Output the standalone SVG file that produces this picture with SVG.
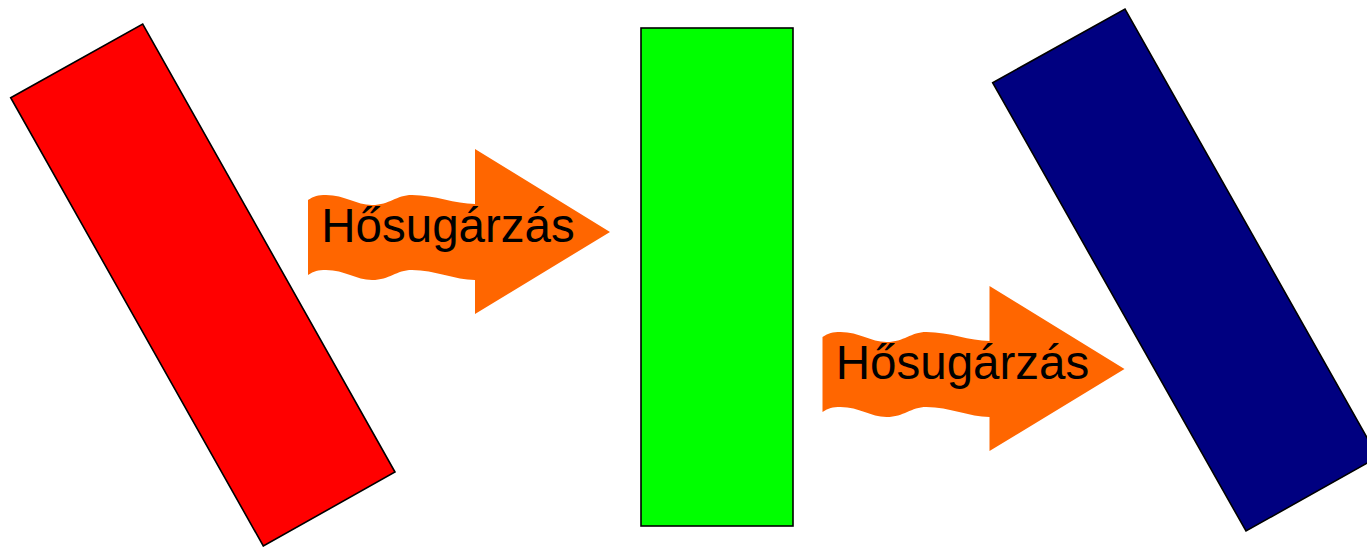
<svg xmlns="http://www.w3.org/2000/svg" xmlns:xlink="http://www.w3.org/1999/xlink" width="1367" height="547" viewBox="0 0 1367 547">
  <style>
    .plate { stroke: #000000; stroke-width: 1.6; stroke-linejoin: miter; }
    .hot { fill: #FF0000; }
    .mid { fill: #00FF00; }
    .cold { fill: #000080; }
    .wave { fill: #FF6600; stroke: none; }
    .label { font-family: "Liberation Sans", Arial, sans-serif; font-size: 47.5px; fill: #000000; text-anchor: middle; }
  </style>
  <defs>
    <!-- wavy block arrow used for the radiation flows -->
    <path id="waveArrow" class="wave" d="M308,200 C314,196 318,195 326,195 C345,195 356,205 372,205 C390,205 396,195 412,195 C435,195 455,204 475,204 L475,149 L610,232 L475,314 L475,280 C455,280 435,270 412,270 C396,270 390,280 372,280 C356,280 345,270 326,270 C318,270 314,271 308,275 Z"/>
  </defs>

  <g id="hot-plate">
    <polygon class="plate hot" points="10.7,97.7 142.7,24 395,472 263.3,546"/>
  </g>

  <g id="middle-plate">
    <rect class="plate mid" x="641" y="28" width="152" height="498"/>
  </g>

  <g id="cold-plate">
    <polygon class="plate cold" points="992.7,82.7 1125,9 1378,457 1246,531"/>
  </g>

  <g id="connectors">
    <g id="radiation-1">
      <use xlink:href="#waveArrow"/>
      <text class="label" x="448" y="242">Hősugárzás</text>
    </g>
    <g id="radiation-2" transform="translate(514.5,137)">
      <use xlink:href="#waveArrow"/>
      <text class="label" x="448" y="242">Hősugárzás</text>
    </g>
  </g>
</svg>
